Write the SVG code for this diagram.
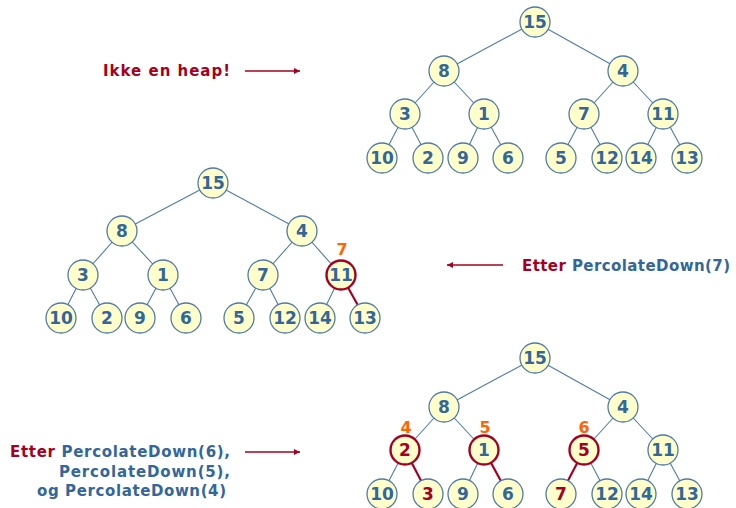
<svg xmlns="http://www.w3.org/2000/svg" width="736" height="508" viewBox="0 0 736 508">
  <style>
    .edge { stroke: #4f7aa8; stroke-width: 1.1; fill: none; }
    .edge.hot { stroke: #a50021; stroke-width: 2.2; }
    .node circle { fill: #ffffcc; stroke: #4f7aa8; stroke-width: 1.3; }
    .node.hot circle { stroke: #a50021; stroke-width: 2.4; }
    .node text { font-family: "DejaVu Sans", Verdana, sans-serif; font-weight: bold; font-size: 17px; fill: #336699; text-anchor: middle; }
    .node text.red { fill: #a50021; }
    .step { font-family: "DejaVu Sans", Verdana, sans-serif; font-weight: bold; font-size: 16px; fill: #ff6600; text-anchor: middle; }
    .label { font-family: "DejaVu Sans", Verdana, sans-serif; font-weight: bold; font-size: 15px; fill: #336699; }
    .red { fill: #a50021; }
    .arrow { stroke: #a50021; stroke-width: 1.3; fill: none; marker-end: url(#head); }
  </style>
  <defs>
    <marker id="head" viewBox="0 0 10 10" refX="10" refY="5" markerWidth="6" markerHeight="6" markerUnits="userSpaceOnUse" orient="auto">
      <path d="M0,0 L10,5 L0,10 z" fill="#a50021"/>
    </marker>
  </defs>

  <!-- Tree A: the unordered array -->
  <g id="treeA">
    <g id="treeA-edges">
      <line class="edge" x1="535" y1="22" x2="444" y2="71"/>
      <line class="edge" x1="535" y1="22" x2="623" y2="71"/>
      <line class="edge" x1="444" y1="71" x2="405" y2="114"/>
      <line class="edge" x1="444" y1="71" x2="484" y2="114"/>
      <line class="edge" x1="623" y1="71" x2="584" y2="114"/>
      <line class="edge" x1="623" y1="71" x2="663" y2="114"/>
      <line class="edge" x1="405" y1="114" x2="382" y2="158"/>
      <line class="edge" x1="405" y1="114" x2="428" y2="158"/>
      <line class="edge" x1="484" y1="114" x2="463" y2="158"/>
      <line class="edge" x1="484" y1="114" x2="508" y2="158"/>
      <line class="edge" x1="584" y1="114" x2="561" y2="158"/>
      <line class="edge" x1="584" y1="114" x2="607" y2="158"/>
      <line class="edge" x1="663" y1="114" x2="641" y2="158"/>
      <line class="edge" x1="663" y1="114" x2="687" y2="158"/>
    </g>
    <g id="a15" class="node"><circle cx="535" cy="22" r="15"/><text x="535" y="28">15</text></g>
    <g id="a8" class="node"><circle cx="444" cy="71" r="15"/><text x="444" y="77">8</text></g>
    <g id="a4" class="node"><circle cx="623" cy="71" r="15"/><text x="623" y="77">4</text></g>
    <g id="a3" class="node"><circle cx="405" cy="114" r="15"/><text x="405" y="120">3</text></g>
    <g id="a1" class="node"><circle cx="484" cy="114" r="15"/><text x="484" y="120">1</text></g>
    <g id="a7" class="node"><circle cx="584" cy="114" r="15"/><text x="584" y="120">7</text></g>
    <g id="a11" class="node"><circle cx="663" cy="114" r="15"/><text x="663" y="120">11</text></g>
    <g id="a10" class="node"><circle cx="382" cy="158" r="15"/><text x="382" y="164">10</text></g>
    <g id="a2" class="node"><circle cx="428" cy="158" r="15"/><text x="428" y="164">2</text></g>
    <g id="a9" class="node"><circle cx="463" cy="158" r="15"/><text x="463" y="164">9</text></g>
    <g id="a6" class="node"><circle cx="508" cy="158" r="15"/><text x="508" y="164">6</text></g>
    <g id="a5" class="node"><circle cx="561" cy="158" r="15"/><text x="561" y="164">5</text></g>
    <g id="a12" class="node"><circle cx="607" cy="158" r="15"/><text x="607" y="164">12</text></g>
    <g id="a14" class="node"><circle cx="641" cy="158" r="15"/><text x="641" y="164">14</text></g>
    <g id="a13" class="node"><circle cx="687" cy="158" r="15"/><text x="687" y="164">13</text></g>
  </g>

  <!-- Tree B: after PercolateDown(7) -->
  <g id="treeB">
    <g id="treeB-edges">
      <line class="edge" x1="213" y1="183" x2="122" y2="231"/>
      <line class="edge" x1="213" y1="183" x2="302" y2="231"/>
      <line class="edge" x1="122" y1="231" x2="83" y2="275"/>
      <line class="edge" x1="122" y1="231" x2="163" y2="275"/>
      <line class="edge" x1="302" y1="231" x2="263" y2="275"/>
      <line class="edge" x1="302" y1="231" x2="341" y2="275"/>
      <line class="edge" x1="83" y1="275" x2="61" y2="318"/>
      <line class="edge" x1="83" y1="275" x2="107" y2="318"/>
      <line class="edge" x1="163" y1="275" x2="140" y2="318"/>
      <line class="edge" x1="163" y1="275" x2="186" y2="318"/>
      <line class="edge" x1="263" y1="275" x2="239" y2="318"/>
      <line class="edge" x1="263" y1="275" x2="285" y2="318"/>
      <line class="edge" x1="341" y1="275" x2="320" y2="318"/>
      <line class="edge hot" x1="341" y1="275" x2="365" y2="318"/>
    </g>
    <g id="b15" class="node"><circle cx="213" cy="183" r="15"/><text x="213" y="189">15</text></g>
    <g id="b8" class="node"><circle cx="122" cy="231" r="15"/><text x="122" y="237">8</text></g>
    <g id="b4" class="node"><circle cx="302" cy="231" r="15"/><text x="302" y="237">4</text></g>
    <g id="b3" class="node"><circle cx="83" cy="275" r="15"/><text x="83" y="281">3</text></g>
    <g id="b1" class="node"><circle cx="163" cy="275" r="15"/><text x="163" y="281">1</text></g>
    <g id="b7" class="node"><circle cx="263" cy="275" r="15"/><text x="263" y="281">7</text></g>
    <g id="b11" class="node hot"><circle cx="341" cy="275" r="14.5"/><text x="341" y="281">11</text></g>
    <g id="b10" class="node"><circle cx="61" cy="318" r="15"/><text x="61" y="324">10</text></g>
    <g id="b2" class="node"><circle cx="107" cy="318" r="15"/><text x="107" y="324">2</text></g>
    <g id="b9" class="node"><circle cx="140" cy="318" r="15"/><text x="140" y="324">9</text></g>
    <g id="b6" class="node"><circle cx="186" cy="318" r="15"/><text x="186" y="324">6</text></g>
    <g id="b5" class="node"><circle cx="239" cy="318" r="15"/><text x="239" y="324">5</text></g>
    <g id="b12" class="node"><circle cx="285" cy="318" r="15"/><text x="285" y="324">12</text></g>
    <g id="b14" class="node"><circle cx="320" cy="318" r="15"/><text x="320" y="324">14</text></g>
    <g id="b13" class="node"><circle cx="365" cy="318" r="15"/><text x="365" y="324">13</text></g>
    <text class="step" x="342" y="255">7</text>
  </g>

  <!-- Tree C: after PercolateDown(6), (5) and (4) -->
  <g id="treeC">
    <g id="treeC-edges">
      <line class="edge" x1="535" y1="358" x2="444" y2="407"/>
      <line class="edge" x1="535" y1="358" x2="623" y2="407"/>
      <line class="edge" x1="444" y1="407" x2="405" y2="450"/>
      <line class="edge" x1="444" y1="407" x2="484" y2="450"/>
      <line class="edge" x1="623" y1="407" x2="584" y2="450"/>
      <line class="edge" x1="623" y1="407" x2="663" y2="450"/>
      <line class="edge" x1="405" y1="450" x2="382" y2="494"/>
      <line class="edge hot" x1="405" y1="450" x2="428" y2="494"/>
      <line class="edge" x1="484" y1="450" x2="463" y2="494"/>
      <line class="edge hot" x1="484" y1="450" x2="508" y2="494"/>
      <line class="edge hot" x1="584" y1="450" x2="561" y2="494"/>
      <line class="edge" x1="584" y1="450" x2="607" y2="494"/>
      <line class="edge" x1="663" y1="450" x2="641" y2="494"/>
      <line class="edge" x1="663" y1="450" x2="687" y2="494"/>
    </g>
    <g id="c15" class="node"><circle cx="535" cy="358" r="15"/><text x="535" y="364">15</text></g>
    <g id="c8" class="node"><circle cx="444" cy="407" r="15"/><text x="444" y="413">8</text></g>
    <g id="c4" class="node"><circle cx="623" cy="407" r="15"/><text x="623" y="413">4</text></g>
    <g id="c2" class="node hot"><circle cx="405" cy="450" r="14.5"/><text class="red" x="405" y="456">2</text></g>
    <g id="c1" class="node hot"><circle cx="484" cy="450" r="14.5"/><text x="484" y="456">1</text></g>
    <g id="c5" class="node hot"><circle cx="584" cy="450" r="14.5"/><text class="red" x="584" y="456">5</text></g>
    <g id="c11" class="node"><circle cx="663" cy="450" r="15"/><text x="663" y="456">11</text></g>
    <g id="c10" class="node"><circle cx="382" cy="494" r="15"/><text x="382" y="500">10</text></g>
    <g id="c3" class="node"><circle cx="428" cy="494" r="15"/><text class="red" x="428" y="500">3</text></g>
    <g id="c9" class="node"><circle cx="463" cy="494" r="15"/><text x="463" y="500">9</text></g>
    <g id="c6" class="node"><circle cx="508" cy="494" r="15"/><text x="508" y="500">6</text></g>
    <g id="c7" class="node"><circle cx="561" cy="494" r="15"/><text class="red" x="561" y="500">7</text></g>
    <g id="c12" class="node"><circle cx="607" cy="494" r="15"/><text x="607" y="500">12</text></g>
    <g id="c14" class="node"><circle cx="641" cy="494" r="15"/><text x="641" y="500">14</text></g>
    <g id="c13" class="node"><circle cx="687" cy="494" r="15"/><text x="687" y="500">13</text></g>
    <text class="step" x="406" y="433">4</text>
    <text class="step" x="485" y="433">5</text>
    <text class="step" x="584" y="433">6</text>
  </g>

  <!-- Captions and pointer arrows -->
  <g id="connectors">
    <line class="arrow" x1="245" y1="71" x2="300" y2="71"/>
    <line class="arrow" x1="503" y1="265" x2="447" y2="265"/>
    <line class="arrow" x1="245" y1="452" x2="300" y2="452"/>
  </g>
  <g id="captions">
    <text class="label red" x="103" y="76" textLength="127">Ikke en heap!</text>
    <text class="label" x="522" y="271" textLength="208"><tspan class="red">Etter </tspan>PercolateDown(7)</text>
    <text class="label" x="10" y="457" textLength="220"><tspan class="red">Etter </tspan>PercolateDown(6),</text>
    <text class="label" x="59" y="477" textLength="171">PercolateDown(5),</text>
    <text class="label" x="37" y="496" textLength="189">og PercolateDown(4)</text>
  </g>
</svg>
